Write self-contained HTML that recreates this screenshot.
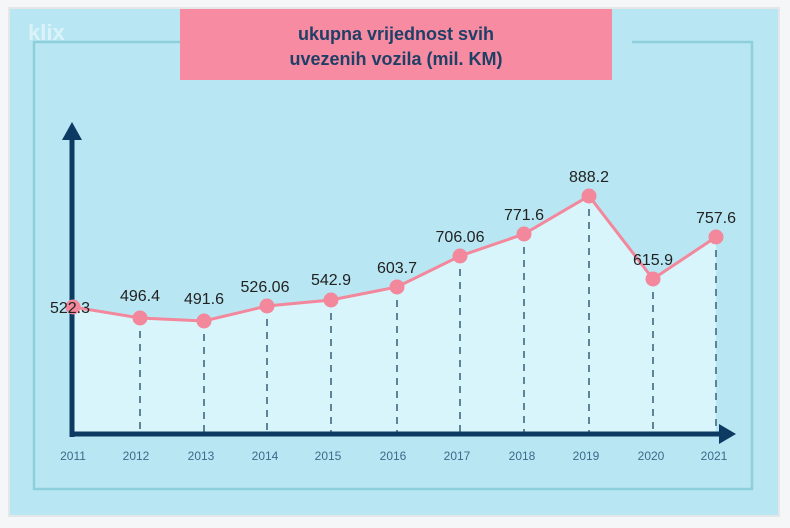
<!DOCTYPE html>
<html><head><style>
body{margin:0;width:790px;height:523px;background:#f4f6f7;overflow:hidden;font-family:"Liberation Sans",sans-serif}
</style></head><body>
<svg width="790" height="523" xmlns="http://www.w3.org/2000/svg">
<rect x="8" y="7" width="772" height="510" fill="#e4e6e8"/>
<rect x="10" y="9" width="768" height="506" fill="#b8e7f3"/>
<path d="M180 42 H34 V489 H752 V42 H632" fill="none" stroke="#8dd0dc" stroke-width="2.5"/>
<text x="28" y="40" font-size="22" font-weight="bold" fill="#dff4fa" opacity="0.9">klix</text>
<rect x="180" y="9" width="432" height="71" fill="#f68ba1"/>
<text x="396" y="40" text-anchor="middle" font-size="18" font-weight="bold" fill="#1f3f66">ukupna vrijednost svih</text>
<text x="396" y="65" text-anchor="middle" font-size="18" font-weight="bold" fill="#1f3f66">uvezenih vozila (mil. KM)</text>
<polygon points="73,307 140,318 204,321 267,306 331,300 397,287 460,256 524,234 589,196 653,279 716,237 716,434 73,434" fill="#d9f5fc"/>
<g stroke="#5e8499" stroke-width="2" stroke-dasharray="7,6">
<line x1="140" y1="318" x2="140" y2="432"/><line x1="204" y1="321" x2="204" y2="432"/><line x1="267" y1="306" x2="267" y2="432"/><line x1="331" y1="300" x2="331" y2="432"/><line x1="397" y1="287" x2="397" y2="432"/><line x1="460" y1="256" x2="460" y2="432"/><line x1="524" y1="234" x2="524" y2="432"/><line x1="589" y1="196" x2="589" y2="432"/><line x1="653" y1="279" x2="653" y2="432"/><line x1="716" y1="237" x2="716" y2="432"/>
</g>
<line x1="72" y1="138" x2="72" y2="437" stroke="#0d3a63" stroke-width="5"/>
<polygon points="62,140 72,122 82,140" fill="#0d3a63"/>
<line x1="70" y1="434" x2="722" y2="434" stroke="#0d3a63" stroke-width="5"/>
<polygon points="719,424 736,434 719,444" fill="#0d3a63"/>
<polyline points="73,307 140,318 204,321 267,306 331,300 397,287 460,256 524,234 589,196 653,279 716,237" fill="none" stroke="#f3879b" stroke-width="3"/>
<g fill="#f3879b">
<circle cx="73" cy="307" r="7.5"/><circle cx="140" cy="318" r="7.5"/><circle cx="204" cy="321" r="7.5"/><circle cx="267" cy="306" r="7.5"/><circle cx="331" cy="300" r="7.5"/><circle cx="397" cy="287" r="7.5"/><circle cx="460" cy="256" r="7.5"/><circle cx="524" cy="234" r="7.5"/><circle cx="589" cy="196" r="7.5"/><circle cx="653" cy="279" r="7.5"/><circle cx="716" cy="237" r="7.5"/>
</g>
<g font-size="16" fill="#222" text-anchor="middle">
<text x="70" y="313">522.3</text><text x="140" y="301">496.4</text><text x="204" y="304">491.6</text><text x="265" y="292">526.06</text><text x="331" y="285">542.9</text><text x="397" y="273">603.7</text><text x="460" y="242">706.06</text><text x="524" y="220">771.6</text><text x="589" y="182">888.2</text><text x="653" y="265">615.9</text><text x="716" y="223">757.6</text>
</g>
<g font-size="12" fill="#3d6a8a" text-anchor="middle">
<text x="73" y="460">2011</text><text x="136" y="460">2012</text><text x="201" y="460">2013</text><text x="265" y="460">2014</text><text x="328" y="460">2015</text><text x="393" y="460">2016</text><text x="457" y="460">2017</text><text x="522" y="460">2018</text><text x="586" y="460">2019</text><text x="651" y="460">2020</text><text x="714" y="460">2021</text>
</g>
</svg>
</body></html>
